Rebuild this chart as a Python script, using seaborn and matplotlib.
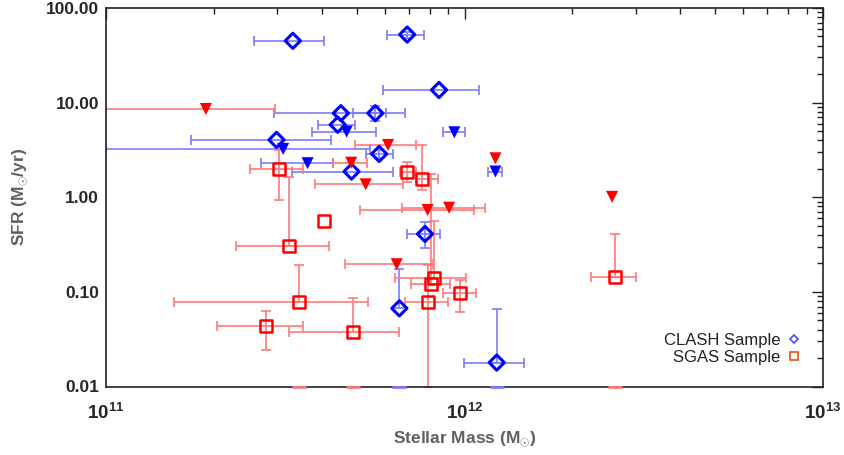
import numpy as np
import pandas as pd
import matplotlib
matplotlib.use("Agg")
import matplotlib.pyplot as plt
from matplotlib.lines import Line2D
from matplotlib.ticker import FuncFormatter, LogLocator, NullFormatter
import seaborn as sns

nan = np.nan

# CLASH sample: SFR detections
clash_mass = [3.32e11, 6.92e11, 8.49e11, 4.52e11, 5.64e11, 4.43e11, 2.99e11,
              5.78e11, 4.84e11, 7.76e11, 6.58e11, 1.23e12]
clash_sfr = [45.0, 52.4, 13.6, 7.73, 7.73, 5.85, 4.04, 2.87, 1.87, 0.409, 0.067, 0.0179]
clash_mass_lo = [2.59e11, 6.07e11, 5.93e11, 2.94e11, 4.90e11, 3.91e11, 1.73e11,
                 5.30e11, 3.30e11, 6.92e11, nan, 9.98e11]
clash_mass_hi = [4.06e11, 7.73e11, 1.10e12, 6.03e11, 6.82e11, 4.95e11, 4.25e11,
                 6.30e11, 6.33e11, 8.55e11, nan, 1.47e12]
clash_sfr_lo = [nan, 48.6, nan, nan, 6.46, nan, nan, 2.58, nan, 0.289, 0.0, 0.0]
clash_sfr_hi = [nan, 56.4, nan, nan, 9.23, nan, nan, 3.16, nan, 0.552, 0.175, 0.0655]

# CLASH sample: SFR upper limits
clash_lim_mass = [4.69e11, 9.37e11, 3.12e11, 3.65e11, 1.22e12]
clash_lim_sfr = [4.93, 4.86, 3.24, 2.29, 1.87]
clash_lim_mass_lo = [3.76e11, 8.73e11, 1.0e11, 2.71e11, 1.16e12]
clash_lim_mass_hi = [5.65e11, 1.00e12, 5.45e11, 4.30e11, 1.27e12]

# SGAS sample: SFR detections
sgas_mass = [3.04e11, 6.92e11, 7.59e11, 4.06e11, 3.24e11, 8.24e11, 8.04e11,
             9.70e11, 7.89e11, 3.45e11, 4.90e11, 2.79e11, 2.63e12]
sgas_sfr = [1.98, 1.85, 1.55, 0.562, 0.308, 0.139, 0.120, 0.097, 0.0787,
            0.0787, 0.0374, 0.044, 0.145]
sgas_mass_lo = [2.52e11, 6.60e11, 7.31e11, nan, 2.31e11, 6.40e11, 7.10e11,
                8.73e11, 6.82e11, 1.55e11, 3.24e11, 2.04e11, 2.26e12]
sgas_mass_hi = [3.55e11, 7.30e11, 8.41e11, nan, 4.19e11, 1.01e12, 9.10e11,
                1.08e12, 9.02e11, 5.37e11, 6.56e11, 3.55e11, 3.00e12]
sgas_sfr_lo = [0.937, 1.45, 1.20, nan, nan, nan, nan, 0.0618, 0.01, 0.0, 0.0, 0.0243, 0.0]
sgas_sfr_hi = [3.16, 2.35, 3.57, nan, 1.65, 0.567, 1.75, 0.134, 0.19, 0.192,
               0.0869, 0.0632, 0.406]

# SGAS sample: SFR upper limits
sgas_lim_mass = [1.90e11, 6.12e11, 4.83e11, 5.30e11, 7.89e11, 9.06e11, 6.47e11, 1.22e12, 2.58e12]
sgas_lim_sfr = [8.57, 3.57, 2.32, 1.37, 0.734, 0.776, 0.196, 2.58, 1.01]
sgas_lim_mass_lo = [1.0e11, 4.95e11, 4.30e11, 3.83e11, 5.10e11, 6.68e11, 4.64e11, nan, nan]
sgas_lim_mass_hi = [2.97e11, 7.31e11, 5.33e11, 6.75e11, 1.06e12, 1.14e12, 8.17e11, nan, nan]

x_ticks = [1e11, 1e12, 1e13]
y_ticks = [0.01, 0.1, 1.0, 10.0, 100.0]


def frame(mass, sfr, mlo, mhi, slo, shi, sample, kind):
    n = len(mass)
    return pd.DataFrame({
        "mass": mass, "sfr": sfr,
        "mass_lo": mlo, "mass_hi": mhi,
        "sfr_lo": slo if slo is not None else [nan] * n,
        "sfr_hi": shi if shi is not None else [nan] * n,
        "sample": sample, "kind": kind,
    })


df = pd.concat([
    frame(clash_mass, clash_sfr, clash_mass_lo, clash_mass_hi,
          clash_sfr_lo, clash_sfr_hi, "CLASH", "detection"),
    frame(clash_lim_mass, clash_lim_sfr, clash_lim_mass_lo, clash_lim_mass_hi,
          None, None, "CLASH", "limit"),
    frame(sgas_mass, sgas_sfr, sgas_mass_lo, sgas_mass_hi,
          sgas_sfr_lo, sgas_sfr_hi, "SGAS", "detection"),
    frame(sgas_lim_mass, sgas_lim_sfr, sgas_lim_mass_lo, sgas_lim_mass_hi,
          None, None, "SGAS", "limit"),
], ignore_index=True)

sns.set_style("white")
plt.rcParams["font.family"] = ["Liberation Sans", "DejaVu Sans"]
plt.rcParams["mathtext.fontset"] = "custom"
plt.rcParams["mathtext.rm"] = "Liberation Sans"
plt.rcParams["mathtext.bf"] = "Liberation Sans:bold"

colors = {"CLASH": "#0000ff", "SGAS": "#ff0000"}
bar_colors = {"CLASH": "#7a7aff", "SGAS": "#ff7a7a"}

fig = plt.figure(figsize=(8.44, 4.55), dpi=100)
ax = fig.add_axes([106 / 844, 1 - 386.5 / 455, (823 - 106) / 844, (386.5 - 8) / 455])
ax.set_xscale("log")
ax.set_yscale("log")
ax.set_xlim(1e11, 1e13)
ax.set_ylim(0.01, 100)

# error bars (light), one row at a time so missing errors are skipped
for _, r in df.iterrows():
    c = bar_colors[r["sample"]]
    if not np.isnan(r.mass_lo):
        ax.errorbar(r.mass, r.sfr, xerr=[[r.mass - r.mass_lo], [r.mass_hi - r.mass]],
                    fmt="none", ecolor=c, elinewidth=1.2, capsize=3.5, capthick=1.2,
                    zorder=2)
    if not np.isnan(r.sfr_hi):
        if r.sfr_lo > 0:
            yerr = [[r.sfr - r.sfr_lo], [r.sfr_hi - r.sfr]]
        else:
            yerr = [[0.0], [r.sfr_hi - r.sfr]]
        ax.errorbar(r.mass, r.sfr, yerr=yerr, fmt="none", ecolor=c,
                    elinewidth=1.2, capsize=3.5, capthick=1.2, zorder=2)

# lower bounds consistent with zero: cap on the axis floor
floor = df[df.sfr_lo == 0.0]
for sample, g in floor.groupby("sample"):
    ax.scatter(g.mass, np.full(len(g), ax.get_ylim()[0]), marker="_", s=110,
               linewidths=2.0, color=bar_colors[sample], zorder=3, clip_on=False)

# detections
sns.scatterplot(data=df[(df["sample"] == "CLASH") & (df.kind == "detection")],
                x="mass", y="sfr", marker="D", s=60, facecolor="none",
                edgecolor=colors["CLASH"], linewidth=2.2, ax=ax, zorder=4)
sns.scatterplot(data=df[(df["sample"] == "SGAS") & (df.kind == "detection")],
                x="mass", y="sfr", marker="s", s=75, facecolor="none",
                edgecolor=colors["SGAS"], linewidth=1.8, ax=ax, zorder=4)
# upper limits
for sample in ["CLASH", "SGAS"]:
    sns.scatterplot(data=df[(df["sample"] == sample) & (df.kind == "limit")],
                    x="mass", y="sfr", marker="v", s=75, color=colors[sample],
                    edgecolor="none", linewidth=0, ax=ax, zorder=5)

ax.set_xticks(x_ticks)
ax.set_yticks(y_ticks)
ax.xaxis.set_minor_locator(LogLocator(base=10, subs=np.arange(2, 10)))
ax.yaxis.set_minor_locator(LogLocator(base=10, subs=np.arange(2, 10)))
ax.xaxis.set_minor_formatter(NullFormatter())
ax.yaxis.set_minor_formatter(NullFormatter())
ax.xaxis.set_major_formatter(FuncFormatter(
    lambda v, p: r"$\mathbf{10^{%d}}$" % int(round(np.log10(v)))))
ax.yaxis.set_major_formatter(FuncFormatter(lambda v, p: f"{v:.2f}"))
ax.tick_params(which="both", direction="in", top=True, right=True, width=1.0,
               color="#222222")
ax.tick_params(which="major", length=8)
ax.tick_params(which="minor", length=4.5)
ax.tick_params(axis="y", which="major", pad=5, labelsize=12.5)
ax.tick_params(axis="x", which="major", pad=12, labelsize=13.5)
for lab in ax.get_yticklabels():
    lab.set_fontweight("bold")

for sp in ax.spines.values():
    sp.set_visible(True)
    sp.set_color("#222222")
    sp.set_linewidth(1.2)

ax.set_xlabel(r"Stellar Mass (M$_{\odot}$)", fontsize=12.5, fontweight="bold",
              color="#606060", labelpad=4)
ax.set_ylabel(r"SFR (M$_{\odot}$/yr)", fontsize=12.5, fontweight="bold",
              color="#606060", labelpad=12)

handles = [
    Line2D([], [], marker="D", ls="none", mfc="none", mec="#4a4aff", ms=4.5, mew=1.2),
    Line2D([], [], marker="s", ls="none", mfc="none", mec="#f05a28", ms=5.5, mew=1.3),
]
ax.legend(handles, ["CLASH Sample", "SGAS Sample"], loc="lower right",
          bbox_to_anchor=(0.978, 0.04), borderaxespad=0, frameon=False,
          markerfirst=False, fontsize=12, handlelength=0.8, handletextpad=0.4,
          labelspacing=0.12, labelcolor="#222222")

fig.savefig("out.png", dpi=100)
